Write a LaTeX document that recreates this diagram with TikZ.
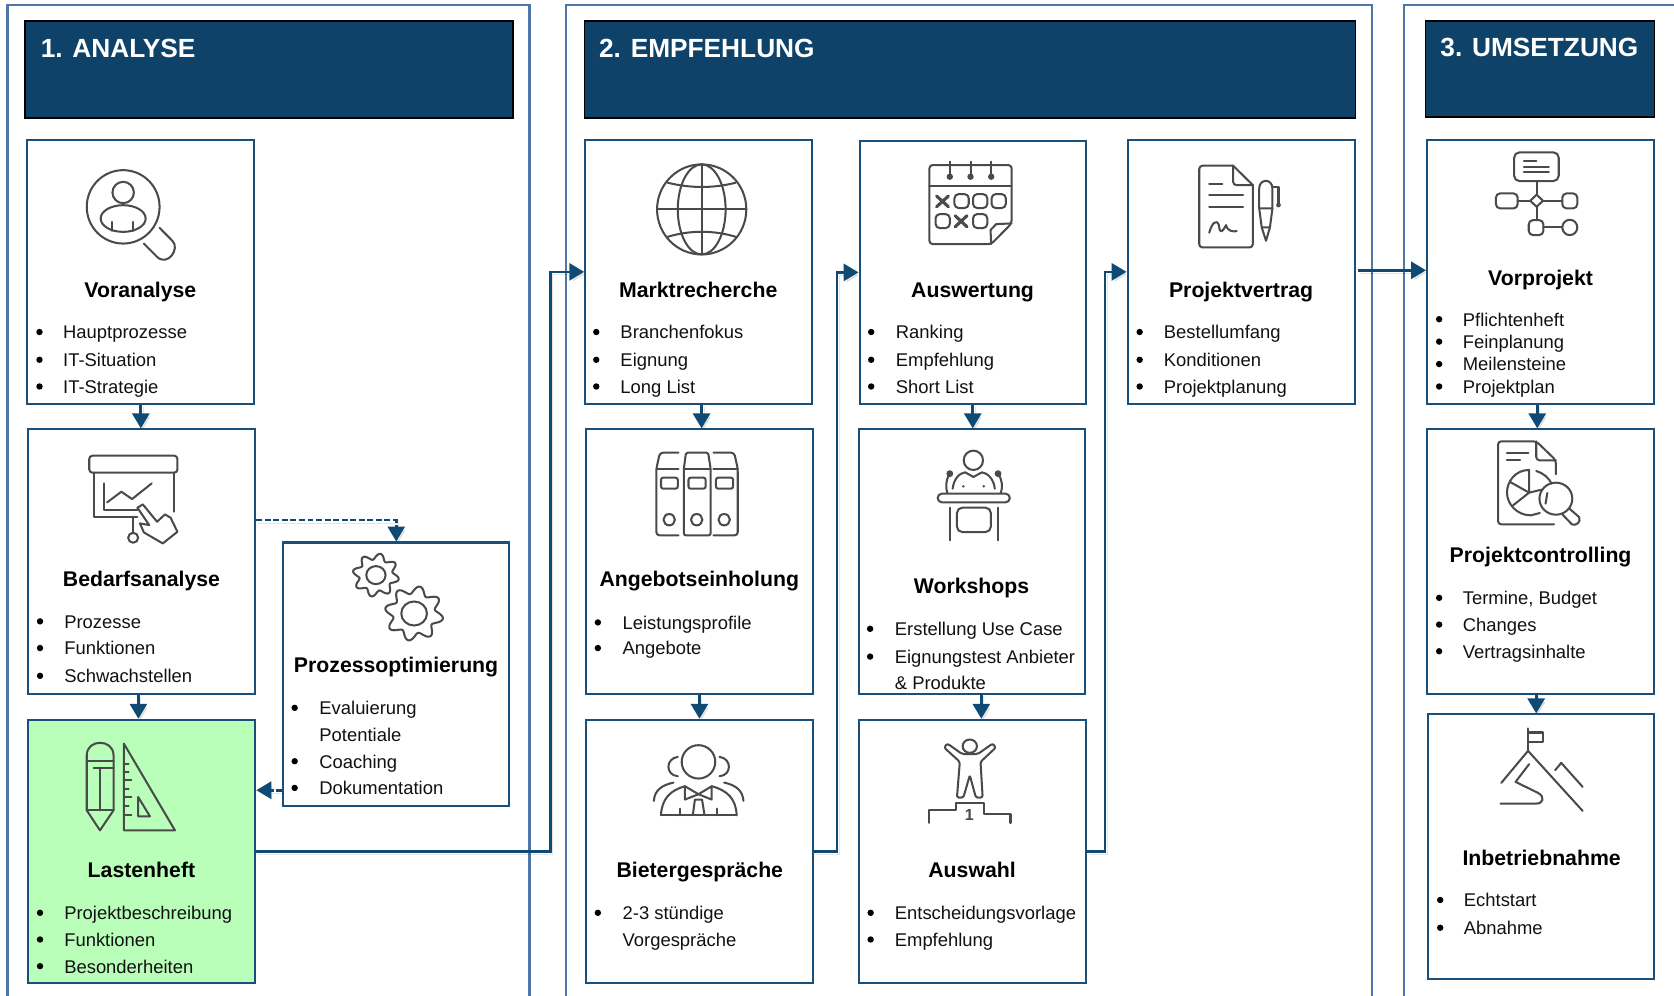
\documentclass[tikz,border=0pt]{standalone}
\usepackage{fontspec}
\setmainfont{Liberation Sans}
\usetikzlibrary{arrows.meta,calc}
\definecolor{navy}{HTML}{0E4268}
\definecolor{boxline}{HTML}{1A4F7A}
\definecolor{panelline}{HTML}{4F76A6}
\definecolor{arrowc}{HTML}{0F4A75}
\definecolor{icong}{HTML}{4A4A4A}
\definecolor{greenf}{HTML}{B9FFB9}
\definecolor{txt}{HTML}{111111}
\newcounter{bulc}
\tikzset{
  panel/.style={draw=panelline,line width=2.1pt},
  headbar/.style={draw=black,line width=1.3pt,fill=navy},
  headtxt/.style={anchor=base west,text=white,font=\fontsize{24.6}{28}\selectfont\bfseries,inner sep=0pt},
  card/.style={draw=boxline,line width=1.9pt,fill=white,inner sep=0pt,anchor=north west},
  ctitle/.style={anchor=base,text=black,font=\fontsize{19.9}{23}\selectfont\bfseries,inner sep=0pt},
  ctext/.style={anchor=base west,text=txt,font=\fontsize{17.25}{20}\selectfont,inner sep=0pt},
  flow/.style={draw=arrowc,line width=2.5pt,-{Triangle[length=14pt,width=16pt]},
    preaction={draw=black,opacity=.10,transform canvas={shift={(2pt,-2.5pt)}}}},
  dflow/.style={flow,dash pattern=on 5.5pt off 2.5pt},
  ic/.style={draw=icong,line width=1.9pt,line join=round,line cap=round},
  zc/.style n args={2}{shift={(#1,#2)},x=.3344pt,y=-.3125pt},
}
% card: name, x1, y1, x2, y2
\newcommand{\card}[6][]{\node[card,#1,minimum width=#4pt-#2pt,minimum height=#5pt-#3pt] (#6) at (#2-0.8,#3-0.8) {};}
% bullet with text: bullet x, text x, y, text
\newcommand{\bul}[4]{\stepcounter{bulc}\fill[black] (#1,#3) circle (3pt);\node[ctext] (li\thebulc) at (#2,#3+6.4) {#4};}
% bare line of text: text x, y, text
\newcommand{\cont}[3]{\stepcounter{bulc}\node[ctext] (li\thebulc) at (#1,#2+6.4) {#3};}
% rounded box in icon coordinates
\newcommand{\rbox}[5]{\draw[ic,rounded corners=#5pt] (#1,#2) rectangle (#3,#4);}
% gear: cx, cy, R, inner r
\newcommand{\gear}[4]{\draw[ic] plot[domain=0:360,samples=121,smooth] ({#1+#3*(0.86+0.14*sin(8*\x))*cos(\x)},{#2+#3*(0.86+0.14*sin(8*\x))*sin(\x)}) -- cycle;
  \draw[ic] (#1,#2) circle[radius=#4];}
\begin{document}
\begin{tikzpicture}[x=1pt,y=-1pt]
\useasboundingbox (0,0) rectangle (1568,932);
\fill[white] (0,0) rectangle (1568,932);
% panels
\draw[panel] (7,934) -- (7,5) -- (496,5) -- (496,934);
\draw[panel] (530,934) -- (530,5) -- (1285,5) -- (1285,934);
\draw[panel] (1315,934) -- (1315,5) -- (1570,5);
% header bars
\node[headbar,anchor=north west,inner sep=0pt,minimum width=457pt,minimum height=91pt] (h1) at (22.8,19) {};
\node[headbar,anchor=north west,inner sep=0pt,minimum width=722pt,minimum height=91pt] (h2) at (546.8,19) {};
\node[headbar,anchor=north west,inner sep=0pt,minimum width=214pt,minimum height=90pt] (h3) at (1334.8,19) {};
\node[headtxt] (h1t) at (38,53.5) {1. ANALYSE};
\node[headtxt] (h2t) at (561,53.5) {2. EMPFEHLUNG};
\node[headtxt] (h3t) at (1349,52.5) {3. UMSETZUNG};
% cards
\card{25.5}{131}{238}{378}{va}
\card{26}{402}{239}{650}{ba}
\card[fill=greenf]{26}{674}{239}{921}{lh}
\card{265}{508}{477}{755}{po}
\card{548}{131}{760}{378}{mr}
\card{549}{402}{761}{650}{ae}
\card{549}{674}{761}{921}{bg}
\card{805}{132}{1017}{378}{aw}
\card{804}{402}{1016}{650}{ws}
\card{804.5}{674}{1017}{921}{as}
\card{1056}{131}{1269}{378}{pv}
\card{1336.5}{131}{1549}{378}{vp}
\card{1336.5}{402}{1549}{650}{pc}
\card{1337.5}{669}{1549.5}{917}{ib}
% titles
\node[ctitle] (t1) at (131.5,278.5) {Voranalyse};
\node[ctitle] (t2) at (132.5,549.5) {Bedarfsanalyse};
\node[ctitle] (t3) at (132.5,821.5) {Lastenheft};
\node[ctitle] (t4) at (371,629.5) {Prozessoptimierung};
\node[ctitle] (t5) at (654,278.5) {Marktrecherche};
\node[ctitle] (t6) at (655,549.5) {Angebotseinholung};
\node[ctitle] (t7) at (655.5,821.5) {Bietergespräche};
\node[ctitle] (t8) at (911,278.5) {Auswertung};
\node[ctitle] (t9) at (910,555.5) {Workshops};
\node[ctitle] (t10) at (910.5,821.5) {Auswahl};
\node[ctitle] (t11) at (1162.5,278.5) {Projektvertrag};
\node[ctitle] (t12) at (1443,267.5) {Vorprojekt};
\node[ctitle] (t13) at (1443,526.5) {Projektcontrolling};
\node[ctitle] (t14) at (1444,810.5) {Inbetriebnahme};
% lists
\bul{37}{59}{311}{Hauptprozesse}\bul{37}{59}{337}{IT-Situation}\bul{37}{59}{362}{IT-Strategie}
\bul{37.5}{60}{582}{Prozesse}\bul{37.5}{60}{607}{Funktionen}\bul{37.5}{60}{633}{Schwachstellen}
\bul{37.5}{60}{855}{Projektbeschreibung}\bul{37.5}{60}{880}{Funktionen}\bul{37.5}{60}{905}{Besonderheiten}
\bul{276}{299}{663}{Evaluierung}\cont{299}{688}{Potentiale}\bul{276}{299}{713}{Coaching}\bul{276}{299}{738}{Dokumentation}
\bul{558.5}{581}{311}{Branchenfokus}\bul{558.5}{581}{337}{Eignung}\bul{558.5}{581}{362}{Long List}
\bul{560}{583}{583}{Leistungsprofile}\bul{560}{583}{607}{Angebote}
\bul{560}{583}{855}{2-3 stündige}\cont{583}{880}{Vorgespräche}
\bul{816}{839}{311}{Ranking}\bul{816}{839}{337}{Empfehlung}\bul{816}{839}{362}{Short List}
\bul{815}{838}{589}{Erstellung Use Case}\bul{815}{838}{615}{Eignungstest Anbieter}\cont{838}{639}{\& Produkte}
\bul{815.5}{838}{855}{Entscheidungsvorlage}\bul{815.5}{838}{880}{Empfehlung}
\bul{1067.5}{1090}{311}{Bestellumfang}\bul{1067.5}{1090}{337}{Konditionen}\bul{1067.5}{1090}{362}{Projektplanung}
\bul{1348}{1370}{299}{Pflichtenheft}\bul{1348}{1370}{320}{Feinplanung}\bul{1348}{1370}{341}{Meilensteine}\bul{1348}{1370}{362}{Projektplan}
\bul{1348}{1370}{560}{Termine, Budget}\bul{1348}{1370}{585}{Changes}\bul{1348}{1370}{610}{Vertragsinhalte}
\bul{1349}{1371}{843}{Echtstart}\bul{1349}{1371}{869}{Abnahme}
% connectors
\draw[flow] (va.south) -- (va.south |- ba.north);
\draw[flow] ([xshift=-3pt]ba.south) -- ([xshift=-3pt]ba.south |- lh.north);
\draw[dflow] ([yshift=39pt]ba.east) -| (po.north);
\draw[dflow] ([yshift=-108.5pt]po.west) -- ([yshift=-108.5pt]po.west -| lh.east);
\draw[flow] (lh.east) -- ++(275.5,0) |- (mr.west);
\draw[flow] ([xshift=3pt]mr.south) -- ([xshift=3pt]mr.south |- ae.north);
\draw[flow] (ae.south) -- (ae.south |- bg.north);
\draw[flow] (bg.east) -- ++(22,0) |- (aw.west);
\draw[flow] (aw.south) -- (aw.south |- ws.north);
\draw[flow] ([xshift=9pt,yshift=2pt]ws.south) -- ([xshift=9pt]ws.south |- as.north);
\draw[flow] (as.east) -- ++(17,0) |- (pv.west);
\draw[flow] ([xshift=2pt,yshift=1.5pt]pv.east) -- ([yshift=1.5pt]vp.west);
\draw[flow] ([xshift=-3pt]vp.south) -- ([xshift=-3pt]vp.south |- pc.north);
\draw[flow] ([xshift=-4pt,yshift=2pt]pc.south) -- ([xshift=-4pt]pc.south |- ib.north);
% ---- icons, in zoom-crop coordinates ----
% Voranalyse: person under lens
\begin{scope}[zc={0}{0}]
\draw[ic] (345,620) ellipse[x radius=102,y radius=110];
\draw[ic] (345,577) ellipse[x radius=30,y radius=32];
\draw[ic] (345,655) ellipse[x radius=63,y radius=40];
\draw[ic] (315,665) -- (315,692) (373,665) -- (373,692);
\draw[ic] (447,683) -- (483,722) .. controls (505,745) and (470,800) .. (440,770) -- (403,730);
\end{scope}
% Bedarfsanalyse: board and hand
\begin{scope}[zc={0}{463.7}]
\rbox{250}{-118}{497}{-67}{3}
\draw[ic] (262,-67) -- (262,65) -- (385,65);
\draw[ic] (487,-67) -- (487,50);
\draw[ic] (290,-35) -- (290,45) -- (385,45);
\draw[ic] (300,22) -- (340,-10) -- (370,12) -- (425,-35);
\draw[ic] (373,65) -- (373,115);
\draw[ic] (373,128) ellipse[x radius=14,y radius=15];
\draw[ic] (385,38) -- (400,28) -- (440,80) -- (462,58) -- (478,68) -- (497,110) -- (456,145) -- (403,112) -- (392,85) -- (418,90) -- cycle;
\end{scope}
% Prozessoptimierung: gears
\begin{scope}[zc={0}{463.7}]
\gear{1053}{240}{65}{27}
\gear{1160}{355}{82}{36}
\end{scope}
% Lastenheft: pencil and set square
\begin{scope}[zc={0}{463.7}]
\draw[ic] (243,945) -- (243,780) .. controls (243,730) and (318,730) .. (318,780) -- (318,945) -- (280,1005) -- cycle;
\draw[ic] (243,797) -- (318,797) (262,817) -- (318,817) (280,817) -- (280,945) (243,945) -- (318,945);
\draw[ic] (347,745) -- (490,1005) -- (347,1005) -- cycle;
\draw[ic] (347,805) -- (360,805) (347,830) -- (360,830) (347,855) -- (368,855) (347,880) -- (360,880) (347,905) -- (368,905) (347,932) -- (360,932) (347,958) -- (368,958);
\draw[ic] (387,905) -- (420,963) -- (387,963) -- cycle;
\end{scope}
% Marktrecherche: globe
\begin{scope}[zc={524.5}{112.4}]
\draw[ic] (397,268) ellipse[x radius=125,y radius=135];
\draw[ic] (397,268) ellipse[x radius=67,y radius=135];
\draw[ic] (397,133) -- (397,403) (272,268) -- (522,268);
\draw[ic] (302,188) .. controls (365,205) and (430,205) .. (492,188);
\draw[ic] (302,350) .. controls (365,330) and (430,330) .. (492,350);
\end{scope}
% Angebotseinholung: binders
\begin{scope}[zc={524.5}{112.4}]
\draw[ic,rounded corners=2pt] (347,1245) -- (347,1045) -- (353,997) -- (415,997) -- (422,1045) -- (422,1245) -- cycle;
\draw[ic] (347,1045) -- (422,1045);
\rbox{360}{1072}{408}{1105}{2}
\draw[ic] (383,1198) ellipse[x radius=16,y radius=17];
\draw[ic,rounded corners=3pt] (332,997) -- (280,997) -- (270,1045) -- (270,1245) -- (332,1245);
\draw[ic] (270,1045) -- (332,1045);
\rbox{283}{1072}{330}{1105}{2}
\draw[ic] (306,1198) ellipse[x radius=16,y radius=17];
\draw[ic,rounded corners=3pt] (430,997) -- (488,997) -- (498,1045) -- (498,1245) -- (430,1245);
\draw[ic] (430,1045) -- (498,1045);
\rbox{437}{1072}{485}{1105}{2}
\draw[ic] (460,1198) ellipse[x radius=16,y radius=17];
\end{scope}
% Bietergespraeche: people
\begin{scope}[zc={524.5}{505.8}]
\draw[ic] (388,665) ellipse[x radius=47,y radius=50];
\draw[ic] (330,650) .. controls (295,655) and (295,705) .. (330,708);
\draw[ic] (447,650) .. controls (482,655) and (482,705) .. (447,708);
\draw[ic] (283,825) -- (495,825);
\draw[ic] (283,825) .. controls (285,775) and (310,750) .. (350,738);
\draw[ic] (495,825) .. controls (493,775) and (468,750) .. (425,738);
\draw[ic] (318,727) .. controls (285,735) and (265,750) .. (263,782);
\draw[ic] (460,727) .. controls (492,735) and (512,750) .. (514,782);
\draw[ic] (350,738) -- (388,762) -- (425,738) -- (425,778) -- (388,762) -- (350,778) -- cycle;
\draw[ic] (372,825) -- (378,778) -- (398,778) -- (405,825);
\draw[ic] (335,805) -- (335,825) (440,805) -- (440,825);
\end{scope}
% Auswertung: calendar
\begin{scope}[zc={524.5}{112.4}]
\draw[ic,rounded corners=3pt] (1035,135) -- (1265,135) -- (1265,310) -- (1208,372) -- (1035,372) -- cycle;
\draw[ic] (1035,198) -- (1265,198);
\draw[ic] (1092,125) -- (1092,170) (1150,125) -- (1150,170) (1208,125) -- (1208,170);
\fill[icong] (1092,170) circle (3pt) (1150,170) circle (3pt) (1208,170) circle (3pt);
\draw[ic] (1265,310) -- (1222,312) -- (1206,330) -- (1208,372);
\draw[ic,line width=2.9pt] (1055,228) -- (1088,260) (1055,260) -- (1088,228);
\draw[ic,line width=2.9pt] (1107,287) -- (1140,320) (1107,320) -- (1140,287);
\rbox{1105}{222}{1145}{264}{4}\rbox{1157}{222}{1197}{264}{4}\rbox{1209}{222}{1249}{264}{4}
\rbox{1052}{282}{1092}{324}{4}\rbox{1157}{282}{1197}{324}{4}
\end{scope}
% Workshops: lectern
\begin{scope}[zc={524.5}{112.4}]
\draw[ic] (1158,1020) ellipse[x radius=27,y radius=29];
\draw[ic] (1100,1105) .. controls (1103,1075) and (1120,1058) .. (1135,1056) -- (1158,1070) -- (1182,1056) .. controls (1197,1058) and (1215,1075) .. (1218,1105);
\fill[icong] (1092,1060) circle (3.2pt) (1227,1060) circle (3.2pt) (1130,1098) circle (1.3pt) (1187,1098) circle (1.3pt);
\draw[ic] (1092,1060) .. controls (1080,1080) and (1080,1100) .. (1085,1118);
\draw[ic] (1227,1060) .. controls (1240,1080) and (1240,1100) .. (1235,1118);
\rbox{1058}{1120}{1260}{1146}{4}
\draw[ic] (1092,1162) -- (1092,1260) (1226,1162) -- (1226,1260);
\rbox{1112}{1162}{1207}{1235}{5}
\end{scope}
% Auswahl: winner on podium
\begin{scope}[zc={524.5}{505.8}]
\draw[ic] (1148,618) ellipse[x radius=20,y radius=20];
\draw[ic,rounded corners=2pt] (1076,622) -- (1085,610) -- (1127,642) -- (1170,642) -- (1212,610) -- (1221,622) -- (1178,665) -- (1184,772) -- (1165,772) -- (1148,705) -- (1130,772) -- (1112,772) -- (1120,665) -- cycle;
\draw[ic] (1035,848) -- (1035,808) -- (1108,808) -- (1108,788) -- (1188,788) -- (1188,822) -- (1262,822) -- (1262,848);
\node[text=icong,font=\fontsize{15}{15}\selectfont\bfseries,inner sep=0pt] (one) at (1147,824) {1};
\end{scope}
% Projektvertrag: contract and pen
\begin{scope}[zc={1039.7}{112.4}]
\draw[ic,rounded corners=3pt] (345,137) -- (250,137) -- (250,382) -- (400,382) -- (400,195);
\draw[ic] (345,137) -- (400,195);
\draw[ic,rounded corners=3pt] (345,137) -- (345,195) -- (400,195);
\draw[ic] (278,192) -- (315,192) (278,226) -- (373,226) (278,260) -- (373,260);
\draw[ic] (278,338) .. controls (285,310) and (298,295) .. (305,315) .. controls (308,345) and (315,335) .. (325,315) .. controls (330,335) and (345,335) .. (355,333);
\draw[ic] (418,265) -- (418,205) .. controls (418,175) and (455,175) .. (455,205) -- (455,265) -- cycle;
\draw[ic] (418,265) -- (425,322) -- (448,322) -- (455,265);
\draw[ic] (425,322) -- (437,362) -- (448,322);
\draw[ic] (455,200) -- (472,200) -- (472,255);
\fill[icong] (472,255) circle (2.2pt);
\end{scope}
% Vorprojekt: flow chart
\begin{scope}[zc={1042.7}{112.4}]
\rbox{1123}{97}{1248}{183}{5}
\draw[ic] (1150,123) -- (1185,123) (1150,140) -- (1220,140) (1150,157) -- (1220,157);
\draw[ic] (1186,183) -- (1186,224) (1186,260) -- (1186,300);
\draw[ic] (1186,224) -- (1204,242) -- (1186,260) -- (1168,242) -- cycle;
\rbox{1072}{220}{1133}{265}{4}\rbox{1258}{220}{1300}{265}{4}
\draw[ic] (1133,242) -- (1168,242) (1204,242) -- (1258,242);
\rbox{1164}{300}{1205}{345}{4}
\draw[ic] (1205,322) -- (1258,322);
\draw[ic] (1279,322) ellipse[x radius=21,y radius=23];
\end{scope}
% Projektcontrolling: report and lens
\begin{scope}[zc={1042.7}{112.4}]
\draw[ic,rounded corners=3pt] (1240,1062) -- (1240,1020) -- (1185,963) -- (1078,963) -- (1078,1212) -- (1235,1212);
\draw[ic,rounded corners=3pt] (1185,963) -- (1185,1020) -- (1240,1020);
\draw[ic] (1103,997) -- (1163,997) (1103,1020) -- (1140,1020);
\draw[ic] (1165,1049) .. controls (1125,1049) and (1103,1085) .. (1103,1117) .. controls (1103,1150) and (1130,1185) .. (1170,1185) -- (1195,1178);
\draw[ic] (1165,1049) -- (1165,1117) -- (1112,1085) (1165,1117) -- (1120,1155) (1165,1117) -- (1200,1108);
\draw[ic] (1185,1052) .. controls (1205,1058) and (1222,1075) .. (1228,1090);
\draw[ic] (1240,1135) ellipse[x radius=46,y radius=48];
\draw[ic] (1216,1118) -- (1211,1150);
\draw[ic] (1278,1165) -- (1305,1190) .. controls (1312,1205) and (1295,1218) .. (1285,1212) -- (1258,1182);
\end{scope}
% Inbetriebnahme: mountain with flag
\begin{scope}[zc={1042.7}{505.8}]
\draw[ic] (1162,565) -- (1162,632);
\draw[ic] (1162,577) -- (1203,577) -- (1203,605) -- (1162,605);
\draw[ic] (1087,728) -- (1162,632) -- (1315,812);
\draw[ic] (1238,690) -- (1255,668) -- (1315,740);
\draw[ic] (1165,672) -- (1127,725) -- (1190,758) .. controls (1210,770) and (1205,790) .. (1185,790) -- (1085,790);
\end{scope}
\end{tikzpicture}
\end{document}
